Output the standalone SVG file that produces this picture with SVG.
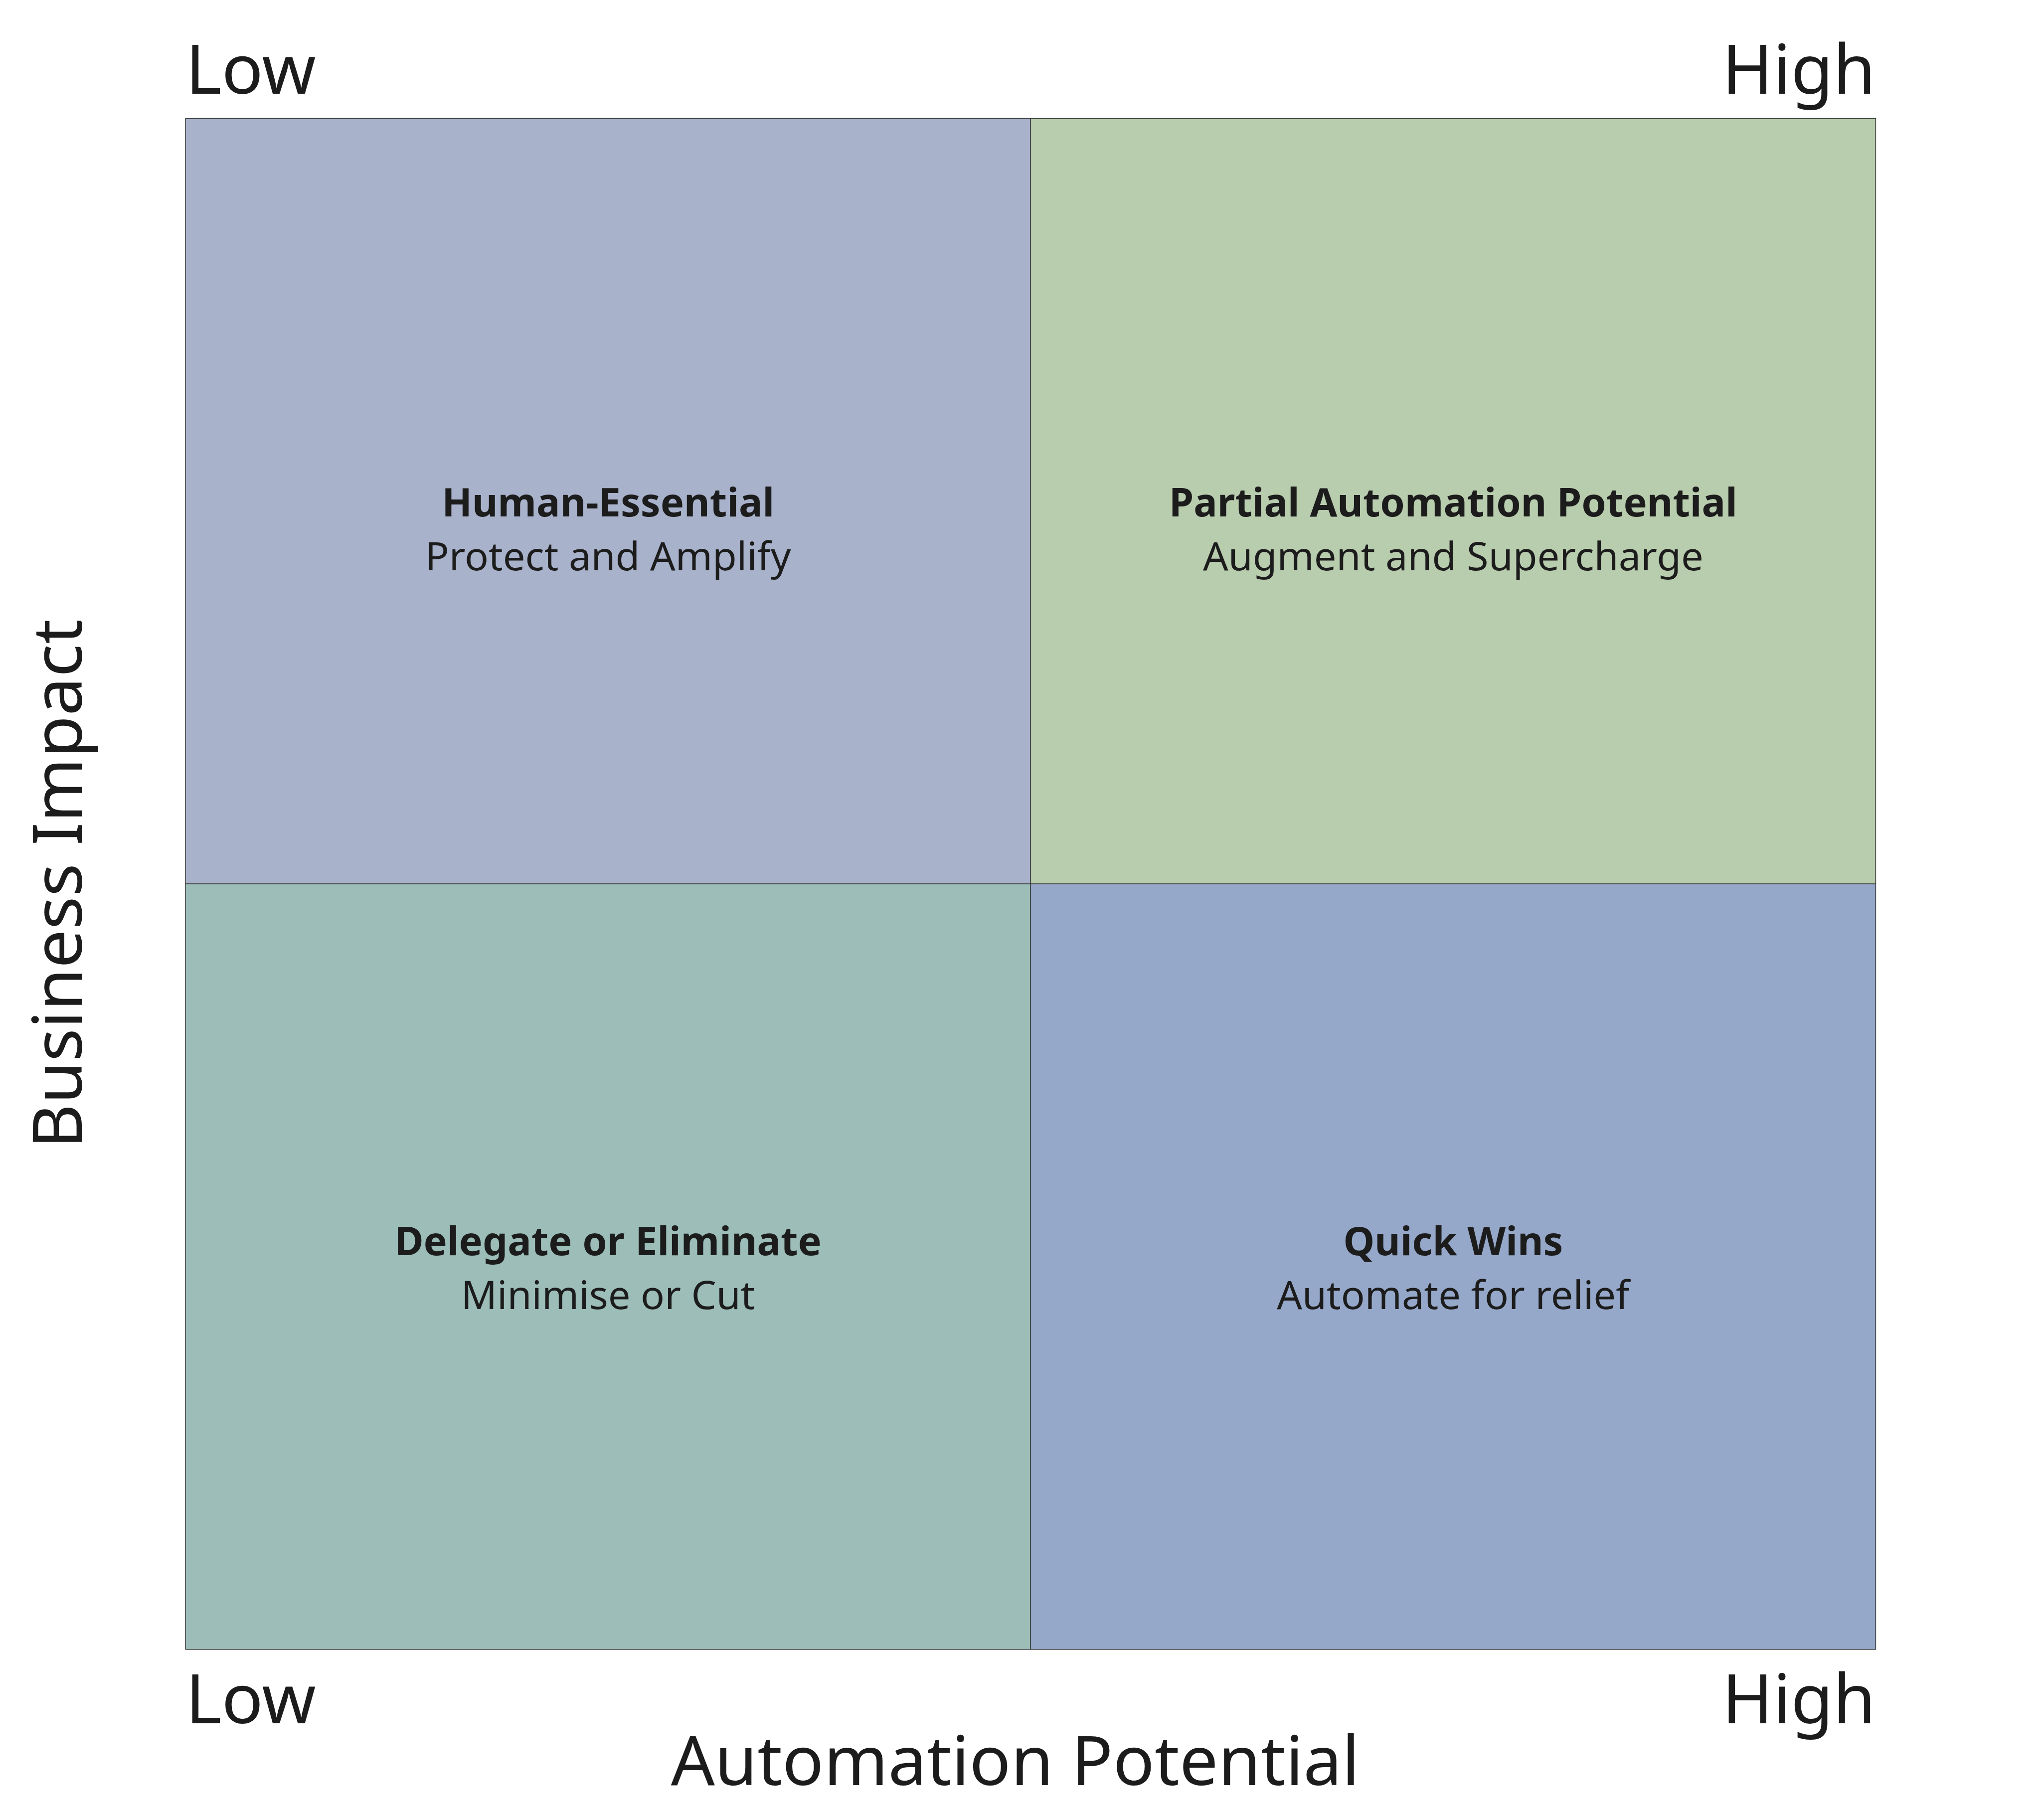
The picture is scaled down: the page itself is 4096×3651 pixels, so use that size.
<svg xmlns="http://www.w3.org/2000/svg" width="4096" height="3651" viewBox="0 0 4096 3651">
<style>
.axis{font-family:"Noto Sans","Open Sans","DejaVu Sans",sans-serif;font-size:138px;fill:#1c1c1c}
.ttl{font-family:"Noto Sans","Open Sans","DejaVu Sans",sans-serif;font-size:79.4px;font-weight:bold;fill:#1c1c1c;text-anchor:middle}
.sub{font-family:"Noto Sans","Open Sans","DejaVu Sans",sans-serif;font-size:79.4px;fill:#1c1c1c;text-anchor:middle}
.q{stroke:#3c3c3c;stroke-width:1.6}
</style>
<rect width="4096" height="3651" fill="#ffffff"/>
<g id="q-human-essential">
<rect class="q" x="372.2" y="237.6" width="1695.1" height="1535.6" fill="#A8B2CB"/>
<text class="ttl" x="1219.7" y="1035.9">Human-Essential</text>
<text class="sub" x="1219.7" y="1143.6">Protect and Amplify</text>
</g>
<g id="q-partial-automation">
<rect class="q" x="2067.3" y="237.6" width="1695.1" height="1535.6" fill="#B8CCAE"/>
<text class="ttl" x="2914.9" y="1035.9">Partial Automation Potential</text>
<text class="sub" x="2914.9" y="1143.6">Augment and Supercharge</text>
</g>
<g id="q-delegate">
<rect class="q" x="372.2" y="1773.2" width="1695.1" height="1535.5" fill="#9CBDB8"/>
<text class="ttl" x="1219.7" y="2517.7">Delegate or Eliminate</text>
<text class="sub" x="1219.7" y="2625.5">Minimise or Cut</text>
</g>
<g id="q-quick-wins">
<rect class="q" x="2067.3" y="1773.2" width="1695.1" height="1535.5" fill="#96A8C9"/>
<text class="ttl" x="2914.9" y="2517.7">Quick Wins</text>
<text class="sub" x="2914.9" y="2625.5">Automate for relief</text>
</g>
<g id="axis-labels">
<text class="axis" x="372.2" y="187.6">Low</text>
<text class="axis" x="3762.4" y="187.6" text-anchor="end">High</text>
<text class="axis" x="372.2" y="3456.5">Low</text>
<text class="axis" x="3762.4" y="3456.5" text-anchor="end">High</text>
<text class="axis" x="2036.5" y="3580.8" text-anchor="middle">Automation Potential</text>
<text class="axis" x="163.7" y="1773.2" text-anchor="middle" transform="rotate(-90 163.7 1773.2)">Business Impact</text>
</g>
</svg>
